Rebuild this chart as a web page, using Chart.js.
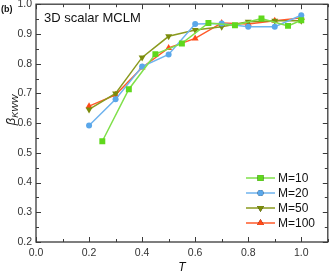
<!DOCTYPE html>
<html>
<head>
<meta charset="utf-8">
<script src="https://cdn.jsdelivr.net/npm/chart.js@4/dist/chart.umd.min.js"></script>
<style>
  html, body { margin: 0; padding: 0; background: #fff; }
  #wrap { width: 332px; height: 275px; }
</style>
</head>
<body>
<div id="wrap"><canvas id="chart" width="332" height="275"></canvas></div>
<script>
// data
var tM10 = [0.25, 0.35, 0.45, 0.55, 0.65, 0.75, 0.85, 0.95, 1.0];
var betaM10 = [0.539, 0.714, 0.832, 0.868, 0.937, 0.929, 0.952, 0.927, 0.946];
var tM = [0.2, 0.3, 0.4, 0.5, 0.6, 0.7, 0.8, 0.9, 1.0];
var betaM20 = [0.592, 0.680, 0.790, 0.831, 0.933, 0.935, 0.924, 0.924, 0.963];
var betaM50 = [0.646, 0.700, 0.821, 0.892, 0.913, 0.924, 0.941, 0.944, 0.944];
var betaM100 = [0.657, 0.695, 0.787, 0.853, 0.885, 0.937, 0.933, 0.944, 0.954];
var seriesNames = ['M=10', 'M=20', 'M=50', 'M=100'];
var xTicks = [0.0, 0.2, 0.4, 0.6, 0.8, 1.0];
var yTicks = [0.2, 0.3, 0.4, 0.5, 0.6, 0.7, 0.8, 0.9, 1.0];

var FONT = '"Liberation Sans", Arial, sans-serif';
var AXIS = '#3a3a3a';

function pts(xs, ys){
  return xs.map(function(x, i){ return {x: x, y: ys[i]}; });
}

function mkSet(label, data, line, fill, style, r){
  return {
    label: label,
    data: data,
    borderColor: line,
    backgroundColor: fill,
    pointBackgroundColor: fill,
    pointBorderColor: fill,
    pointStyle: style,
    pointRadius: r,
    pointBorderWidth: 0,
    borderWidth: 1.5,
    tension: 0,
    fill: false
  };
}

var sets = [
  mkSet(seriesNames[0], pts(tM10, betaM10), '#7fe04a', '#5fd81c', 'rect', 4.2),
  mkSet(seriesNames[1], pts(tM, betaM20), '#6fb3ee', '#5aa7ea', 'circle', 3),
  mkSet(seriesNames[2], pts(tM, betaM50), '#8a9a1e', '#7b8c0c', 'triangle', 4),
  mkSet(seriesNames[3], pts(tM, betaM100), '#ff5a2a', '#ff4a18', 'triangle', 4)
];
// M=50 triangles point down
sets[2].pointRotation = 180;

var frame = {
  id: 'frame',
  afterDraw: function(chart){
    var c = chart.ctx, a = chart.chartArea;
    var xs = chart.scales.x, ys = chart.scales.y;
    c.save();
    c.strokeStyle = AXIS;
    c.lineWidth = 1.3;
    c.strokeRect(a.left, a.top, a.right - a.left, a.bottom - a.top);
    c.lineWidth = 1;
    // x ticks, inward, top and bottom
    for (var i = 0; i <= 11; i++){
      var v = i / 10;
      var px = Math.round(xs.getPixelForValue(v)) + 0.5;
      var len = (i % 2 === 0) ? 5 : 3;
      c.beginPath();
      c.moveTo(px, a.bottom); c.lineTo(px, a.bottom - len);
      c.moveTo(px, a.top); c.lineTo(px, a.top + len);
      c.stroke();
    }
    // y ticks, inward, left and right
    for (var j = 4; j <= 20; j++){
      var py = Math.round(ys.getPixelForValue(j / 20)) + 0.5;
      var l2 = (j % 2 === 0) ? 5 : 3;
      c.beginPath();
      c.moveTo(a.left, py); c.lineTo(a.left + l2, py);
      c.moveTo(a.right, py); c.lineTo(a.right - l2, py);
      c.stroke();
    }

    // panel tag and inset title
    c.fillStyle = '#111';
    c.textBaseline = 'middle';
    c.textAlign = 'left';
    c.font = 'bold 9px ' + FONT;
    c.fillText('(b)', 1, 10);
    c.font = '13px ' + FONT;
    c.fillText('3D scalar MCLM', 44, 18);

    // x title
    c.font = 'italic 12px ' + FONT;
    c.textAlign = 'center';
    c.fillText('T', (a.left + a.right) / 2, 268);

    // y title, rotated
    c.save();
    c.translate(11, 110);
    c.rotate(-Math.PI / 2);
    c.textAlign = 'left';
    c.font = 'italic 13px ' + FONT;
    var bw = c.measureText('\u03b2').width;
    c.font = 'italic 9px ' + FONT;
    var sw = c.measureText('KWW').width;
    var x0 = -(bw + sw) / 2;
    c.font = 'italic 13px ' + FONT;
    c.fillText('\u03b2', x0, 0);
    c.font = 'italic 9px ' + FONT;
    c.fillText('KWW', x0 + bw, 4);
    c.restore();

    // legend inside lower right
    var rows = [178, 193, 208, 223];
    chart.data.datasets.forEach(function(ds, k){
      var y = rows[k];
      c.strokeStyle = ds.borderColor;
      c.lineWidth = 1.5;
      c.beginPath();
      c.moveTo(246, y); c.lineTo(275, y);
      c.stroke();
      Chart.helpers.drawPoint(c, {
        pointStyle: ds.pointStyle,
        radius: ds.pointRadius,
        rotation: ds.pointRotation || 0,
        borderWidth: 0
      }, 260.5, y);
      c.fillStyle = ds.pointBackgroundColor;
      c.fill();
      c.fillStyle = '#111';
      c.font = '12px ' + FONT;
      c.textAlign = 'left';
      c.fillText(ds.label, 278, y + 0.5);
    });
    c.restore();
  }
};

var ctx = document.getElementById('chart');
var chart = new Chart(ctx, {
  type: 'line',
  data: { datasets: sets },
  options: {
    responsive: false,
    animation: false,
    layout: { padding: { top: 4, right: 1, left: 0, bottom: 0 } },
    plugins: { legend: { display: false }, tooltip: { enabled: false } },
    scales: {
      x: {
        type: 'linear', min: 0, max: 1.1,
        grid: { display: false, drawTicks: false },
        border: { display: false },
        afterBuildTicks: function(s){ s.ticks = xTicks.map(function(v){ return {value: v}; }); },
        afterFit: function(s){ s.height = 33; s.paddingLeft = 0; s.paddingRight = 0; },
        ticks: {
          color: '#333', font: { family: FONT, size: 10.5 }, padding: 5, maxRotation: 0,
          callback: function(v){ return v.toFixed(1); }
        }
      },
      y: {
        type: 'linear', min: 0.2, max: 1.0,
        grid: { display: false, drawTicks: false },
        border: { display: false },
        afterBuildTicks: function(s){ s.ticks = yTicks.map(function(v){ return {value: v}; }); },
        afterFit: function(s){ s.width = 36; s.paddingTop = 0; s.paddingBottom = 0; },
        ticks: {
          color: '#333', font: { family: FONT, size: 10.5 }, padding: 4,
          callback: function(v){ return v.toFixed(1); }
        }
      }
    }
  },
  plugins: [frame]
});
</script>
</body>
</html>
